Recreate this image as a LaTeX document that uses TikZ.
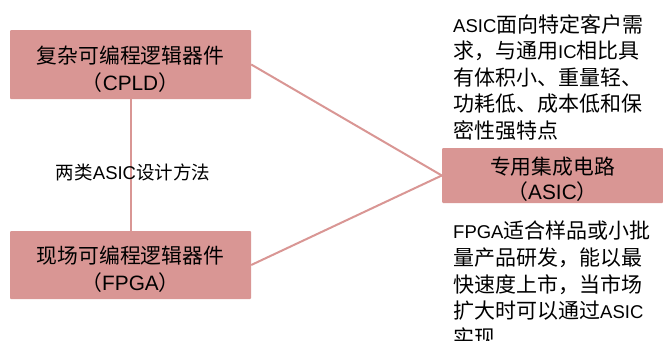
\documentclass[tikz,border=0pt]{standalone}
\usepackage{fontspec}
\setmainfont{Liberation Sans}
\newfontfamily\cjk{Noto Sans CJK SC}
\newfontfamily\latf{Liberation Sans}
\definecolor{boxred}{HTML}{D99694}
\newcommand\lat[1]{{\latf #1}}
\newcommand\latsm[1]{{\latf\fontsize{18.5}{26.6}\selectfont #1}}
\newcommand\topstrut[1]{\rule{0pt}{#1}}
\newcommand\botstrut[1]{\rule[-#1]{0pt}{0pt}}
\tikzset{
  redbox/.style={fill=boxred, draw=none, rounded corners=1pt, inner sep=0pt,
    text=black, align=center, font=\cjk\fontsize{20.8}{27}\selectfont},
  link/.style={draw=boxred, line width=2pt},
  note/.style={anchor=north west, inner sep=0pt, align=left, text=black,
    font=\cjk\fontsize{21}{26.6}\selectfont},
}
\begin{document}
\begin{tikzpicture}[x=1pt,y=-1pt]
\useasboundingbox (0,0) rectangle (663,340);
\node[redbox, minimum width=241pt, minimum height=69pt] (cpld) at (130.5,64.5)
  {\topstrut{26pt}复杂可编程逻辑器件\\（\lat{CPLD}）\botstrut{1.5pt}};
\node[redbox, minimum width=241pt, minimum height=68pt] (fpga) at (130.5,265)
  {\topstrut{26pt}现场可编程逻辑器件\\（\lat{FPGA}）\botstrut{1.5pt}};
\node[redbox, minimum width=221pt, minimum height=55pt,
  font=\cjk\fontsize{20.8}{25}\selectfont] (asic) at (552.5,175.5)
  {\topstrut{24pt}专用集成电路\\（\lat{ASIC}）\botstrut{1.5pt}};
\draw[link] (cpld.south) -- (fpga.north);
\draw[link] (cpld.east) -- (asic.west);
\draw[link] (fpga.east) -- (asic.west);
\node[inner sep=0pt, text=black, font=\cjk\fontsize{18.5}{22}\selectfont] (method) at (133,172)
  {两类\lat{ASIC}设计方法};
\node[note] (asicnote) at (453,14)
  {\latsm{ASIC}面向特定客户需\\求，与通用\latsm{IC}相比具\\有体积小、重量轻、\\功耗低、成本低和保\\密性强特点};
\node[note] (fpganote) at (453,221)
  {\latsm{FPGA}适合样品或小批\\量产品研发，能以最\\快速度上市，当市场\\扩大时可以通过\latsm{ASIC}\\实现};
\end{tikzpicture}
\end{document}
